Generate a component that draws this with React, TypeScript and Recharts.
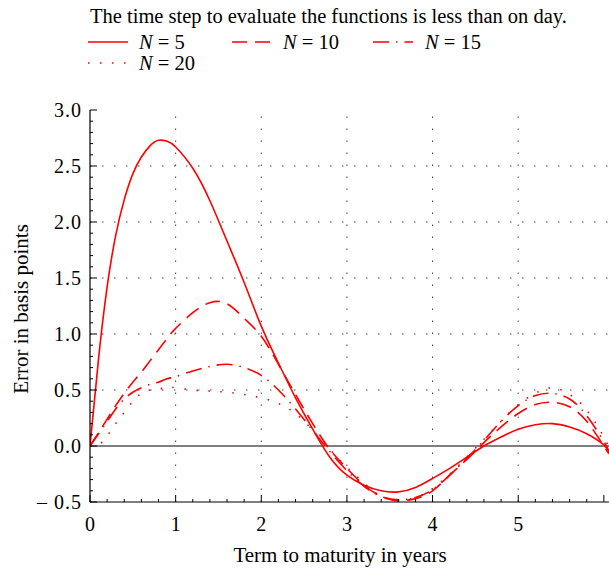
import { LineChart, Line, XAxis, YAxis, ReferenceLine } from 'recharts'

// term to maturity (years)
const terms = [0, 0.1, 0.2, 0.3, 0.4, 0.5, 0.6, 0.7, 0.8, 0.9, 1.0, 1.2, 1.4, 1.6, 1.8, 2.0, 2.2, 2.4, 2.6, 2.8, 3.0, 3.2, 3.4, 3.6, 3.8, 4.0, 4.2, 4.4, 4.6, 4.8, 5.0, 5.2, 5.4, 5.6, 5.8, 6.0, 6.06]

// error in basis points
const n5 = [0, 0.78, 1.42, 1.88, 2.2, 2.43, 2.58, 2.68, 2.73, 2.72, 2.67, 2.48, 2.19, 1.83, 1.46, 1.07, 0.74, 0.43, 0.15, -0.1, -0.26, -0.35, -0.4, -0.41, -0.37, -0.29, -0.2, -0.1, 0.0, 0.08, 0.15, 0.19, 0.2, 0.17, 0.11, 0.01, -0.06]
const n10 = [0, 0.12, 0.24, 0.36, 0.47, 0.57, 0.66, 0.76, 0.86, 0.96, 1.05, 1.19, 1.28, 1.27, 1.14, 0.98, 0.73, 0.46, 0.2, -0.03, -0.2, -0.35, -0.45, -0.49, -0.47, -0.4, -0.26, -0.12, 0.03, 0.17, 0.29, 0.37, 0.39, 0.35, 0.22, 0.0, -0.07]
const n15 = [0, 0.11, 0.22, 0.33, 0.42, 0.48, 0.52, 0.55, 0.57, 0.6, 0.62, 0.67, 0.71, 0.73, 0.7, 0.63, 0.5, 0.33, 0.14, -0.05, -0.22, -0.36, -0.45, -0.48, -0.46, -0.39, -0.26, -0.11, 0.05, 0.22, 0.36, 0.45, 0.47, 0.42, 0.27, 0.04, -0.05]
const n20 = [0, 0.01, 0.09, 0.2, 0.3, 0.4, 0.47, 0.5, 0.51, 0.52, 0.52, 0.5, 0.49, 0.48, 0.46, 0.43, 0.38, 0.29, 0.14, -0.03, -0.19, -0.33, -0.45, -0.48, -0.46, -0.38, -0.25, -0.1, 0.06, 0.22, 0.37, 0.47, 0.52, 0.46, 0.32, 0.08, -0.02]

const xGrid = [1, 2, 3, 4, 5]
const yGrid = [0.5, 1.0, 1.5, 2.0, 2.5]
const xLabels = [0, 1, 2, 3, 4, 5]

const data = terms.map((t, i) => ({ t, n5: n5[i], n10: n10[i], n15: n15[i], n20: n20[i] }))

const xTicks = Array.from({ length: 31 }, (_, i) => +(i * 0.2).toFixed(1))
const yTicks = Array.from({ length: 36 }, (_, i) => +(i * 0.1 - 0.5).toFixed(1))

const FONT = '"Liberation Serif", "Times New Roman", serif'
const RED = '#ff0000'

const series = [
  { key: 'n5', label: '5', dash: undefined },
  { key: 'n10', label: '10', dash: '15 8' },
  { key: 'n15', label: '15', dash: '16 7 1.5 7' },
  { key: 'n20', label: '20', dash: '1.5 10.5' },
]

const isMajor = (v: number) => Math.abs(v - Math.round(v)) < 1e-6
const isHalf = (v: number) => Math.abs(v * 2 - Math.round(v * 2)) < 1e-6

const BottomTick = ({ x, y, payload }: any) => {
  const v = payload.value
  const major = isMajor(v)
  return (
    <g>
      <line x1={x} x2={x} y1={y} y2={y - (major ? 7 : 3)} stroke="#000" />
      {major && xLabels.includes(Math.round(v)) && (
        <text x={x} y={y + 29} textAnchor="middle" fontFamily={FONT} fontSize={20} fill="#000">
          {Math.round(v)}
        </text>
      )}
    </g>
  )
}

const TopTick = ({ x, y, payload }: any) => {
  const major = isMajor(payload.value)
  return <line x1={x} x2={x} y1={y} y2={y + (major ? 7 : 3)} stroke="#000" />
}

const LeftTick = ({ x, y, payload }: any) => {
  const v = payload.value
  const major = isHalf(v)
  const label = v < 0 ? '\u2013 ' + Math.abs(v).toFixed(1) : v.toFixed(1)
  return (
    <g>
      <line x1={x} x2={x + (major ? 7 : 3)} y1={y} y2={y} stroke="#000" />
      {major && (
        <text x={x - 8} y={y + 7} textAnchor="end" fontFamily={FONT} fontSize={20} letterSpacing={1} fill="#000">
          {label}
        </text>
      )}
    </g>
  )
}

function LegendSample({ x, y, dash }: { x: number; y: number; dash?: string }) {
  return <line x1={x} x2={x + 40} y1={y} y2={y} stroke={RED} strokeWidth={1.6} strokeDasharray={dash} />
}

export default function App() {
  const legendPos = [
    { x: 88, y: 42, tx: 139, ty: 49 },
    { x: 232, y: 42, tx: 283, ty: 49 },
    { x: 373, y: 42, tx: 425, ty: 49 },
    { x: 88, y: 63, tx: 139, ty: 70 },
  ]
  return (
    <div style={{ position: 'absolute', left: 0, top: 0, width: 609, height: 569, background: '#fff' }}>
      <LineChart width={609} height={569} data={data} margin={{ top: 110, right: 0, bottom: 0, left: 0 }}>
        <XAxis
          dataKey="t"
          type="number"
          domain={[0, 6.06]}
          ticks={xTicks}
          interval={0}
          height={67}
          tickSize={0}
          tickMargin={0}
          tickLine={false}
          tick={<BottomTick />}
          axisLine={{ stroke: '#000', strokeWidth: 1.2 }}
          allowDataOverflow
        />
        <XAxis
          xAxisId="top"
          orientation="top"
          dataKey="t"
          type="number"
          domain={[0, 6.06]}
          ticks={xTicks}
          interval={0}
          height={0}
          tickSize={0}
          tickMargin={0}
          tickLine={false}
          tick={<TopTick />}
          axisLine={{ stroke: '#000', strokeWidth: 1.2 }}
          allowDataOverflow
        />
        <YAxis
          type="number"
          domain={[-0.5, 3]}
          ticks={yTicks}
          interval={0}
          width={90}
          tickSize={0}
          tickMargin={0}
          tickLine={false}
          tick={<LeftTick />}
          axisLine={{ stroke: '#000', strokeWidth: 1.2 }}
          allowDataOverflow
        />
        {xGrid.map((v) => (
          <ReferenceLine key={'x' + v} x={v} stroke="#444" strokeDasharray="1.5 10.5" />
        ))}
        {yGrid.map((v) => (
          <ReferenceLine key={'y' + v} y={v} stroke="#444" strokeDasharray="1.5 10.5" />
        ))}
        <ReferenceLine y={0} stroke="#000" strokeWidth={1.2} />
        {series.map((s) => (
          <Line
            key={s.key}
            dataKey={s.key}
            type="natural"
            stroke={RED}
            strokeWidth={1.6}
            strokeDasharray={s.dash}
            dot={false}
            activeDot={false}
            isAnimationActive={false}
          />
        ))}
      </LineChart>
      <svg width={609} height={569} style={{ position: 'absolute', left: 0, top: 0, pointerEvents: 'none' }}>
        <text x={90} y={23} fontFamily={FONT} fontSize={20.5} fill="#000">
          The time step to evaluate the functions is less than on day.
        </text>
        {series.map((s, i) => {
          const p = legendPos[i]
          return (
            <g key={s.key}>
              <LegendSample x={p.x} y={p.y} dash={s.dash} />
              <text x={p.tx} y={p.ty} fontFamily={FONT} fontSize={20.5} fill="#000">
                <tspan fontStyle="italic">N</tspan> = {s.label}
              </text>
            </g>
          )
        })}
        <text x={340} y={562} textAnchor="middle" fontFamily={FONT} fontSize={21} fill="#000">
          Term to maturity in years
        </text>
        <text
          x={0}
          y={0}
          transform="translate(28, 309) rotate(-90)"
          textAnchor="middle"
          fontFamily={FONT}
          fontSize={21}
          fill="#000"
        >
          Error in basis points
        </text>
      </svg>
    </div>
  )
}
